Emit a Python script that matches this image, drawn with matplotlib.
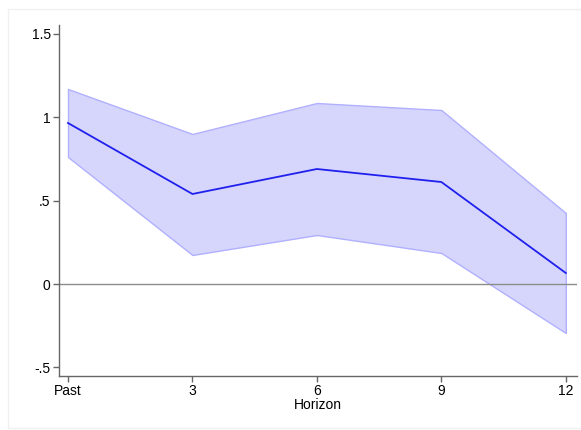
import numpy as np
import matplotlib
matplotlib.use("Agg")
import matplotlib.pyplot as plt

# horizon positions (Past plotted at 0)
horizon = [0, 3, 6, 9, 12]
tick_labels = ["Past", "3", "6", "9", "12"]
coef = [0.966, 0.54, 0.69, 0.612, 0.066]
upper = [1.17, 0.90, 1.086, 1.044, 0.426]
lower = [0.762, 0.174, 0.294, 0.186, -0.294]

plt.rcParams['font.family'] = ['Liberation Sans', 'DejaVu Sans']

fig = plt.figure(figsize=(5.81, 4.30), dpi=100)
fig.patch.set_facecolor('white')
# faint outer frame like the exported graph
fig.add_artist(plt.Rectangle((8/581, 0.005), 1 - 8/581, 0.975, transform=fig.transFigure,
                             fill=False, edgecolor='#f0f0f0', linewidth=1))

ax = fig.add_axes([59/581, 54/430, 518/581, 351/430])
ax.fill_between(horizon, lower, upper, facecolor='#d6d6fc', edgecolor='#b0b0ff', linewidth=1)
ax.plot(horizon, coef, color='#2020ee', linewidth=1.3)
ax.axhline(0, color='#8c8c8c', linewidth=1)

ax.set_xlim(-0.217, 12.27)
ax.set_ylim(-0.552, 1.554)
ax.set_xticks(horizon)
ax.set_xticklabels(tick_labels)
ax.set_yticks([-0.5, 0, 0.5, 1, 1.5])
ax.set_yticklabels(["-.5", "0", ".5", "1", "1.5"])
ax.set_xlabel("Horizon", fontsize=10, labelpad=0)

for s in ['top', 'right']:
    ax.spines[s].set_visible(False)
for s in ['left', 'bottom']:
    ax.spines[s].set_color('#666666')
    ax.spines[s].set_linewidth(1)
ax.tick_params(axis='both', labelsize=10, color='#666666', length=4, width=1, pad=2)

fig.savefig("out.png", dpi=100, facecolor='white')
